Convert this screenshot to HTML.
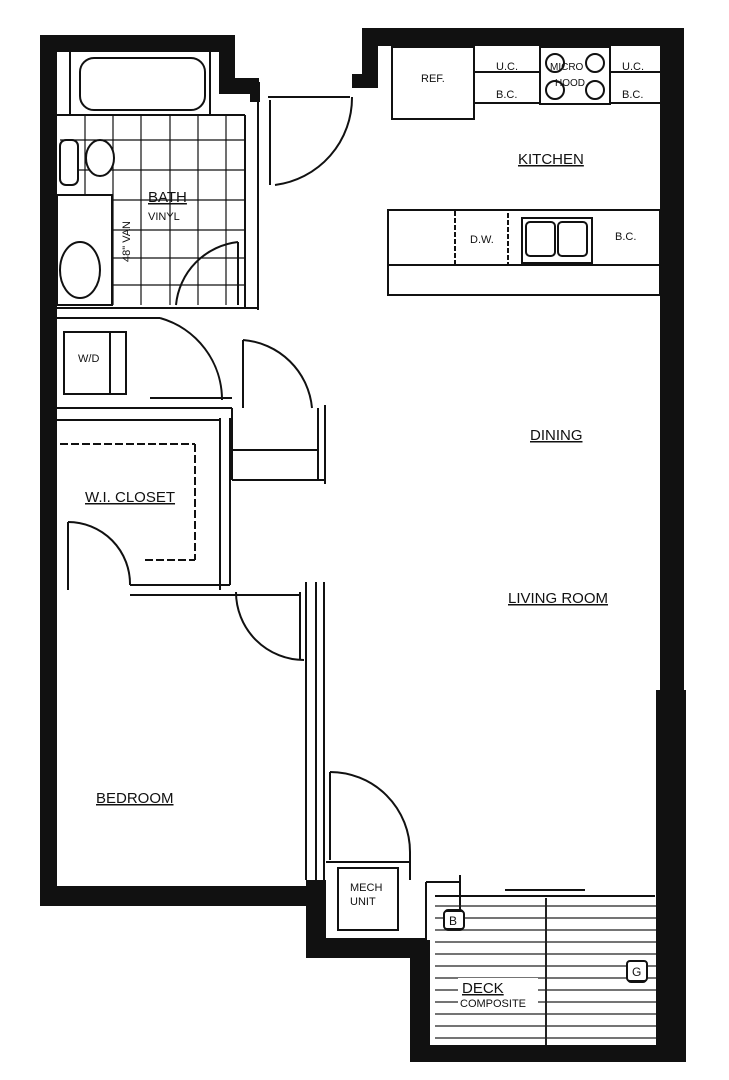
<!DOCTYPE html>
<html><head><style>
html,body{margin:0;padding:0;background:#fff;}
svg{display:block;}
text{font-family:"Liberation Sans",sans-serif;fill:#111;}
</style></head><body>
<svg width="729" height="1080" viewBox="0 0 729 1080" xmlns="http://www.w3.org/2000/svg">
<rect width="729" height="1080" fill="#fff"/>
<g fill="#111">
<!-- left wall -->
<rect x="40" y="35" width="17" height="870"/>
<!-- top-left wall -->
<rect x="40" y="35" width="195" height="17"/>
<rect x="219" y="35" width="16" height="52"/>
<rect x="219" y="78" width="40" height="16"/>
<rect x="250" y="82" width="10" height="20"/>
<!-- top-right wall -->
<rect x="362" y="28" width="322" height="18"/>
<rect x="362" y="28" width="16" height="60"/>
<rect x="352" y="74" width="26" height="14"/>
<!-- right wall -->
<rect x="660" y="28" width="24" height="665"/>
<rect x="656" y="690" width="30" height="372"/>
<!-- bedroom bottom -->
<rect x="40" y="886" width="272" height="20"/>
<rect x="306" y="880" width="20" height="75"/>
<rect x="306" y="938" width="120" height="20"/>
<rect x="410" y="940" width="20" height="122"/>
<rect x="410" y="1045" width="276" height="17"/>
</g>
<g fill="none" stroke="#111" stroke-width="2">
<!-- bath -->
<line x1="57" y1="115" x2="245" y2="115"/>
<rect x="80" y="58" width="125" height="52" rx="14"/>
<line x1="70" y1="52" x2="70" y2="115"/>
<line x1="210" y1="52" x2="210" y2="115"/>
<line x1="245" y1="115" x2="245" y2="308"/>
<line x1="258" y1="100" x2="258" y2="310"/>
<line x1="270" y1="100" x2="270" y2="185"/>
<line x1="57" y1="308" x2="258" y2="308"/>
<line x1="57" y1="318" x2="160" y2="318"/>
<g stroke-width="1.2">
<line x1="60" y1="140" x2="245" y2="140"/><line x1="60" y1="170" x2="245" y2="170"/>
<line x1="60" y1="200" x2="245" y2="200"/><line x1="60" y1="230" x2="245" y2="230"/>
<line x1="60" y1="258" x2="245" y2="258"/><line x1="60" y1="285" x2="245" y2="285"/>
<line x1="85" y1="115" x2="85" y2="305"/><line x1="113" y1="115" x2="113" y2="305"/>
<line x1="141" y1="115" x2="141" y2="305"/><line x1="170" y1="115" x2="170" y2="305"/>
<line x1="198" y1="115" x2="198" y2="305"/><line x1="226" y1="115" x2="226" y2="305"/>
</g>
<rect x="57" y="195" width="55" height="110" fill="#fff"/>
<ellipse cx="80" cy="270" rx="20" ry="28" fill="#fff"/>
<ellipse cx="100" cy="158" rx="14" ry="18" fill="#fff"/>
<rect x="60" y="140" width="18" height="45" rx="6" fill="#fff"/>
<path d="M176 305 A70 70 0 0 1 238 242"/>
<line x1="238" y1="242" x2="238" y2="305"/>
<!-- entry door -->
<line x1="268" y1="97" x2="350" y2="97"/>
<path d="M275 185 A88 88 0 0 0 352 97"/>
<!-- kitchen -->
<rect x="392" y="47" width="82" height="72"/>
<line x1="474" y1="72" x2="540" y2="72"/>
<line x1="474" y1="103" x2="540" y2="103"/>
<rect x="540" y="47" width="70" height="57"/>
<circle cx="555" cy="63" r="9"/><circle cx="595" cy="63" r="9"/>
<circle cx="555" cy="90" r="9"/><circle cx="595" cy="90" r="9"/>
<line x1="610" y1="72" x2="660" y2="72"/>
<line x1="610" y1="103" x2="660" y2="103"/>
<rect x="388" y="210" width="272" height="85"/>
<line x1="388" y1="265" x2="660" y2="265"/>
<rect x="455" y="210" width="53" height="55" stroke-dasharray="5 2"/>
<rect x="522" y="218" width="70" height="45"/>
<rect x="526" y="222" width="29" height="34" rx="4"/><rect x="558" y="222" width="29" height="34" rx="4"/>
<!-- laundry -->
<rect x="64" y="332" width="62" height="62"/>
<line x1="110" y1="332" x2="110" y2="394"/>
<line x1="57" y1="408" x2="150" y2="408"/>
<path d="M160 318 A85 85 0 0 1 222 400"/>
<line x1="150" y1="398" x2="232" y2="398"/>
<line x1="150" y1="408" x2="232" y2="408"/>
<line x1="57" y1="420" x2="220" y2="420"/>
<!-- closet -->
<line x1="60" y1="444" x2="195" y2="444" stroke-dasharray="8 3"/>
<line x1="195" y1="444" x2="195" y2="560" stroke-dasharray="8 3"/>
<line x1="145" y1="560" x2="195" y2="560" stroke-dasharray="8 3"/>
<line x1="220" y1="418" x2="220" y2="590"/>
<line x1="230" y1="418" x2="230" y2="585"/>
<line x1="130" y1="585" x2="230" y2="585"/>
<line x1="130" y1="595" x2="300" y2="595"/>
<line x1="68" y1="522" x2="68" y2="590"/>
<path d="M68 522 A62 62 0 0 1 130 585"/>
<!-- pantry -->
<path d="M243 340 A75 75 0 0 1 312 408"/>
<line x1="243" y1="340" x2="243" y2="408"/>
<line x1="232" y1="408" x2="232" y2="480"/>
<line x1="232" y1="450" x2="318" y2="450"/>
<line x1="232" y1="480" x2="325" y2="480"/>
<line x1="318" y1="408" x2="318" y2="480"/>
<line x1="325" y1="405" x2="325" y2="484"/>
<!-- bedroom/living partition -->
<line x1="306" y1="582" x2="306" y2="880"/>
<line x1="316" y1="582" x2="316" y2="880"/>
<line x1="324" y1="582" x2="324" y2="880"/>
<path d="M236 592 A68 68 0 0 0 304 660"/>
<line x1="300" y1="592" x2="300" y2="660"/>
<!-- mech -->
<path d="M330 772 A80 80 0 0 1 410 852"/>
<line x1="330" y1="772" x2="330" y2="860"/>
<rect x="338" y="868" width="60" height="62"/>
<line x1="326" y1="862" x2="410" y2="862"/>
<line x1="410" y1="852" x2="410" y2="880"/>
<line x1="426" y1="882" x2="426" y2="940"/>
<line x1="426" y1="882" x2="460" y2="882"/>
<line x1="460" y1="875" x2="460" y2="925"/>
<line x1="505" y1="890" x2="585" y2="890"/>
<line x1="435" y1="896" x2="655" y2="896"/>
<rect x="445" y="910" width="18" height="20" rx="3"/>
<rect x="628" y="962" width="18" height="20" rx="3"/>
</g>
<!-- deck boards -->
<g stroke="#222" stroke-width="1.3">
<line x1="546" y1="898" x2="546" y2="1045" stroke-width="2"/>
<g id="b">
<line x1="435" y1="906" x2="656" y2="906"/><line x1="435" y1="918" x2="656" y2="918"/>
<line x1="435" y1="930" x2="656" y2="930"/><line x1="435" y1="942" x2="656" y2="942"/>
<line x1="435" y1="954" x2="656" y2="954"/><line x1="435" y1="966" x2="656" y2="966"/>
<line x1="435" y1="978" x2="656" y2="978"/><line x1="435" y1="990" x2="656" y2="990"/>
<line x1="435" y1="1002" x2="656" y2="1002"/><line x1="435" y1="1014" x2="656" y2="1014"/>
<line x1="435" y1="1026" x2="656" y2="1026"/><line x1="435" y1="1038" x2="656" y2="1038"/>
</g>
</g>
<rect x="458" y="978" width="80" height="30" fill="#fff"/>
<rect x="444" y="911" width="20" height="18" fill="#fff" stroke="#111" stroke-width="2" rx="3"/>
<rect x="627" y="961" width="20" height="20" fill="#fff" stroke="#111" stroke-width="2" rx="3"/>
<g font-size="13">
<text x="421" y="82" font-size="11">REF.</text>
<text x="496" y="70" font-size="11">U.C.</text>
<text x="496" y="98" font-size="11">B.C.</text>
<text x="622" y="70" font-size="11">U.C.</text>
<text x="622" y="98" font-size="11">B.C.</text>
<text x="550" y="70" font-size="10">MICRO</text>
<text x="555" y="86" font-size="10">HOOD</text>
<text x="518" y="164" font-size="15" text-decoration="underline">KITCHEN</text>
<text x="470" y="243" font-size="11">D.W.</text>
<text x="615" y="240" font-size="11">B.C.</text>
<text x="148" y="202" font-size="15" text-decoration="underline">BATH</text>
<text x="148" y="220" font-size="11">VINYL</text>
<text x="78" y="362" font-size="11">W/D</text>
<text x="530" y="440" font-size="15" text-decoration="underline">DINING</text>
<text x="85" y="502" font-size="15" text-decoration="underline">W.I. CLOSET</text>
<text x="508" y="603" font-size="15" text-decoration="underline">LIVING ROOM</text>
<text x="96" y="803" font-size="15" text-decoration="underline">BEDROOM</text>
<text x="350" y="891" font-size="11">MECH</text>
<text x="350" y="905" font-size="11">UNIT</text>
<text x="449" y="925" font-size="12">B</text>
<text x="632" y="976" font-size="12">G</text>
<text x="462" y="993" font-size="15" text-decoration="underline">DECK</text>
<text x="460" y="1007" font-size="11">COMPOSITE</text>
</g>
<text x="0" y="0" font-size="11" transform="translate(130,262) rotate(-90)">48" VAN</text>
</svg>
</body></html>
